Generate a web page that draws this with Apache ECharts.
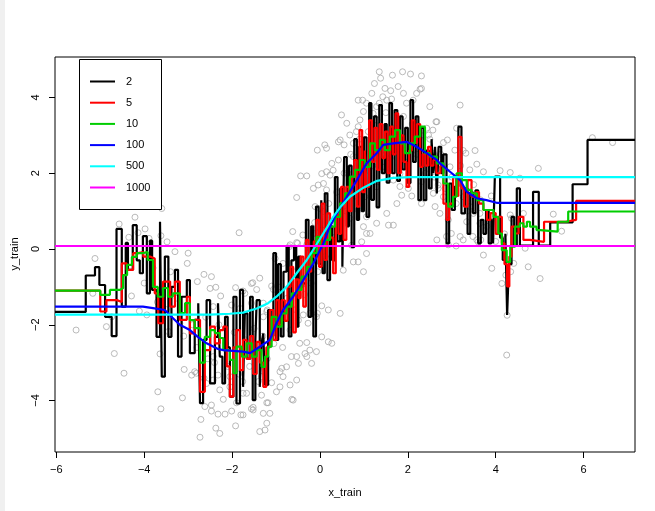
<!DOCTYPE html>
<html>
<head>
<meta charset="utf-8">
<script src="https://cdn.jsdelivr.net/npm/echarts@6/dist/echarts.min.js"></script>
<style>
html,body{margin:0;padding:0;background:#fff;}
#chart{width:655px;height:511px;}
</style>
</head>
<body>
<div id="chart"></div>
<script>
// ---- tick labels ----
const xTicks = [-6, -4, -2, 0, 2, 4, 6];
const yTicks = [-4, -2, 0, 2, 4];

// ---- legend / series names and colours ----
const kLabels = ['2', '5', '10', '100', '500', '1000'];
const kColors = ['#000000', '#ff0000', '#00cd00', '#0000ff', '#00ffff', '#ff00ff'];

// ---- training points (x_train, y_train) ----
const trainPoints = [
[-5.55,-2.14],[-5.17,-1.17],[-5.12,-0.25],[-4.86,-2.05],[-4.74,-1.79],[-4.68,-2.76],[-4.46,-3.28],[-4.57,0.66],[-4.35,0.31],
[-4.21,0.84],[-4.14,0.43],[-3.98,0.53],[-3.89,0.28],[-3.62,0.35],[-3.60,1.07],[-3.48,0.19],[-3.30,-0.07],[-3.00,-0.11],
[-3.02,-0.38],[-4.29,-1.24],[-4.11,-1.64],[-3.94,-1.74],[-3.69,-3.77],[-3.62,-4.22],[-3.64,-2.77],[-3.45,-2.18],[-3.19,-1.96],
[-3.13,-3.93],[-3.09,-3.18],[-2.92,-3.33],[-2.85,-3.24],[-2.81,-3.28],[-2.79,-0.86],[-2.64,-0.67],[-2.47,-0.73],[-2.50,-1.04],
[-2.37,-1.01],[-2.26,-1.24],[-2.58,-3.55],[-2.64,-3.41],[-2.43,-3.46],[-2.43,-2.84],[-2.32,-3.33],[-2.71,-4.50],[-2.62,-4.16],
[-2.47,-4.12],[-2.47,-4.28],[-2.32,-4.36],[-2.16,-4.36],[-2.01,-4.28],[-1.80,-4.38],[-1.92,-4.67],[-2.37,-4.73],[-2.28,-4.87],
[-2.73,-4.97],[-2.05,-3.37],[-1.75,-3.81],[-2.28,-3.72],[-1.84,0.43],[-1.92,-1.02],[-1.75,-1.11],
[-1.53,-0.89],[-1.37,-0.77],[-1.44,-1.07],[-1.10,-0.98],[-1.06,-1.07],[-1.02,-0.25],[-0.62,0.46],[-0.39,0.37],[-0.51,0.15],
[-0.30,0.11],[-0.23,0.02],[-0.15,0.41],[0.00,1.07],[0.08,0.99],[-2.43,-1.52],[-1.29,-1.79],[-1.20,-1.61],[-1.10,-1.88],
[-0.99,-2.05],[-0.68,-2.14],[-0.49,-1.88],[-0.38,-1.74],[-0.27,-1.96],[-0.23,-1.70],[-0.08,-1.79],[0.19,-1.61],[0.19,-2.45],
[-0.08,-2.71],[-0.30,-2.47],[-0.46,-2.49],[-0.34,-2.76],[-0.65,-2.84],[-0.49,-3.02],[-0.76,-3.11],[-0.87,-3.15],[-0.84,-3.37],
[-0.68,-3.59],[-0.91,-3.64],[-0.99,-3.77],[-0.64,-3.97],[-1.21,-4.06],[-1.33,-3.86],[-1.52,-4.18],[-1.90,-4.06],[-2.20,-3.97],
[-1.75,-4.38],[-1.52,-4.25],[-1.37,-4.82],[-1.25,-4.78],[-1.14,-4.34],[-1.67,-3.81],[-2.05,-3.64],[-1.76,-3.50],[-0.91,-3.24],
[-1.10,-3.53],[-1.33,-3.37],[0.04,-2.32],[-0.19,-3.02],[-0.23,-2.67],[-0.53,-3.46],
[-0.61,-3.99],[-1.21,-4.60],[-1.29,-4.34],[-1.56,-4.22],[-1.18,-4.06],[0.04,-1.50],[0.46,-1.70],[0.27,-2.49],[-0.06,-1.70],
[-0.30,-2.84],[-0.53,-2.84],[-0.95,-1.57],[-1.21,-1.65],[-1.82,-1.57],[-2.01,-1.48],[-1.56,-1.43],[-1.29,-1.43],[-1.71,-1.17],
[-1.56,-0.91],[-0.84,-0.38],[-0.68,0.11],[1.06,0.41],
[1.35,4.68],[1.65,4.59],[1.88,4.68],[2.06,4.62],[2.31,4.57],[1.24,4.37],[1.38,4.51],[1.48,4.24],[1.78,4.29],[1.61,4.18],
[1.18,4.11],[1.43,4.02],[1.63,3.96],[1.90,4.11],[2.20,4.11],[2.28,4.22],[0.87,3.93],[0.97,3.93],[1.06,3.85],[1.35,3.85],
[1.52,3.93],[0.99,3.63],[1.21,3.58],[1.29,3.76],[1.97,3.85],[2.12,3.93],[2.50,3.76],[2.66,3.36],[2.43,3.19],[2.47,3.01],
[0.49,3.54],[0.91,3.41],[0.87,3.23],[0.61,3.32],[0.83,3.10],[0.68,3.01],[0.46,2.88],[0.11,2.75],[0.15,2.66],[0.42,2.83],
[0.76,2.79],[0.55,2.75],[0.27,2.26],[0.42,2.35],[0.30,2.08],[0.15,2.04],[0.04,1.99],[0.23,1.95],[0.08,1.73],[0.15,1.56],
[0.64,1.99],[0.72,1.73],[0.76,2.44],[0.68,0.81],[0.87,1.03],[1.06,0.85],[1.29,0.68],[1.56,0.63],[1.67,0.63],[1.52,0.94],
[0.99,0.59],[1.14,0.41],[0.95,0.19],[0.76,-0.34],[0.87,-0.34],[0.99,-0.60],[1.06,-0.12],[0.72,0.10],[0.53,-0.56],[1.82,1.99],
[2.01,1.60],[1.82,1.65],[1.75,1.20],[2.09,1.40],[2.31,1.20],[2.62,1.12],[2.69,1.60],[2.31,1.78],[1.86,1.42],[1.48,2.17],
[1.67,1.82],[1.02,1.38],[1.29,1.64],[2.58,2.52],[2.66,2.13],
[-0.06,2.61],[-0.44,1.93],[-0.30,1.93],[-0.53,1.36],[-0.04,1.69],[-0.15,1.60],[-0.11,1.12],[-0.04,0.43],[-0.15,0.15],
[-0.53,0.17],[-0.70,0.06],
[3.19,3.80],[2.64,3.36],[2.57,3.14],[2.81,2.81],[2.90,2.88],[3.11,3.19],[3.07,2.61],[3.26,2.60],[3.53,2.60],[3.32,2.53],
[2.69,2.22],[2.96,2.17],[3.41,2.09],[3.57,2.24],[3.72,2.04],[4.10,2.07],[4.33,2.02],[4.55,1.87],[4.97,2.13],[2.69,1.69],
[2.58,1.47],[2.81,1.38],[2.73,0.94],[3.26,1.38],[3.41,1.12],[3.49,0.94],[3.64,0.94],[3.64,0.68],[3.34,0.72],[2.92,0.77],
[3.19,0.33],[3.26,0.24],[3.48,0.33],[3.57,0.24],[3.72,-0.16],[3.91,-0.51],[4.14,-0.91],[4.74,-0.47],[5.01,-0.78],[4.67,0.02],
[4.33,0.90],[4.36,0.81],[4.63,0.94],[2.99,0.41],[2.66,0.24],[2.88,0.33],[2.31,4.24],[5.31,0.92],[5.50,0.47],[6.20,2.94],
[6.66,2.81],[3.60,0.19],[3.66,0.24],[2.92,0.11],[3.10,0.08],[4.41,-0.38],[4.34,-0.60],[4.23,-0.69],[4.26,-1.75],[4.25,-2.80],
[-4.00,-0.90],[-3.80,-0.50],[-3.70,-1.40],[-3.50,-1.60],[-3.40,-0.60],[-3.25,-1.30],[-3.10,-2.30],[-2.90,-2.00],[-2.80,-2.60],
[-2.60,-1.80],[-2.55,-2.90],[-2.40,-3.00],[-2.30,-2.00],[-2.15,-2.50],[-2.10,-3.10],[-1.95,-2.20],[-1.85,-3.30],[-1.70,-2.40],
[-1.60,-3.10],[-1.50,-2.10],[-1.40,-3.50],[-1.30,-2.30],[-1.20,-2.90],[-1.05,-2.50],[-0.95,-1.00],[-0.85,-2.60],[-0.75,-1.30],
[-0.60,-0.60],[-0.55,-1.60],[-0.40,-0.30],[-0.35,-1.20],[-0.20,-0.90],[-0.12,0.70],[-0.05,-0.60],[0.05,0.50],[0.12,-0.20],
[0.20,1.20],[0.30,0.30],[0.38,1.50],[0.45,0.60],[0.55,2.00],[0.60,1.00],[0.70,2.50],[0.80,1.40],[0.90,2.90],[1.00,2.00],
[1.10,3.10],[1.20,2.20],[1.30,3.40],[1.40,2.50],[1.50,3.60],[1.60,2.40],[1.70,3.20],[1.80,2.60],[1.90,3.50],[2.00,2.30],
[2.10,3.30],[2.20,2.50],[2.30,3.00],[2.40,2.00],[2.50,2.90],[2.60,1.90],[2.75,2.50],[2.85,1.60],[3.00,1.90],[3.10,1.20],
[3.20,2.20],[3.35,1.00],[3.50,1.70],[3.65,1.30],[3.80,0.60],[3.90,1.40],[4.00,0.20],[4.20,0.40]
];

// ---- kNN fits (x, prediction) ----
const fitK2 = [
[-6.03,-1.66],[-5.33,-0.70],[-5.12,-0.48],[-5.02,-0.95],[-4.89,-1.79],[-4.74,-2.30],[-4.63,0.53],[-4.51,-1.52],[-4.42,0.16],
[-4.37,-0.55],[-4.26,0.63],[-4.17,-0.30],[-4.10,-0.64],[-4.03,0.34],[-3.94,-1.17],[-3.87,0.22],[-3.82,-1.08],[-3.72,-2.32],
[-3.64,0.72],[-3.60,-3.37],[-3.53,-0.20],[-3.45,-2.32],[-3.38,-1.00],[-3.30,-0.55],[-3.23,-2.84],[-3.15,-1.26],[-3.03,-0.82],
[-2.96,-2.75],[-2.85,-1.87],[-2.77,-1.43],[-2.73,-4.07],[-2.66,-2.40],[-2.58,-1.35],[-2.50,-3.55],[-2.39,-2.32],[-2.32,-1.43],
[-2.28,-2.84],[-2.22,-3.55],[-2.16,-1.79],[-2.10,-2.60],[-2.05,-3.90],[-1.97,-1.26],[-1.90,-4.08],[-1.82,-1.08],[-1.75,-3.64],
[-1.71,-1.70],[-1.65,-2.90],[-1.59,-1.26],[-1.53,-3.99],[-1.47,-2.40],[-1.44,-1.35],[-1.37,-3.64],[-1.33,-2.50],[-1.29,-2.23],
[-1.25,-3.59],[-1.18,-1.61],[-1.12,-2.30],[-1.06,-0.11],[-1.00,-2.40],[-0.95,-0.40],[-0.89,-2.31],[-0.83,-0.60],[-0.76,0.06],
[-0.71,-2.31],[-0.65,-0.30],[-0.59,0.06],[-0.54,-2.05],[-0.49,-0.20],[-0.44,-1.00],[-0.38,-0.91],[-0.32,0.77],[-0.26,-1.79],
[-0.20,0.60],[-0.15,-2.31],[-0.09,1.12],[-0.03,-0.40],[0.03,1.29],[0.06,-0.64],[0.11,1.47],[0.17,-0.82],[0.23,0.60],
[0.28,-0.30],[0.34,1.90],[0.40,0.20],[0.46,1.60],[0.51,-0.47],[0.55,2.43],[0.61,0.60],[0.66,2.20],[0.72,0.05],[0.78,2.90],
[0.84,0.77],[0.89,2.70],[0.95,1.00],[1.00,2.95],[1.06,0.85],[1.12,3.85],[1.17,1.30],[1.23,3.50],[1.29,1.10],[1.35,3.80],
[1.41,2.00],[1.47,3.30],[1.52,1.75],[1.58,3.85],[1.64,2.00],[1.70,3.67],[1.76,1.80],[1.82,3.50],[1.88,2.10],[1.94,3.20],
[2.00,1.74],[2.06,3.93],[2.12,2.30],[2.18,3.50],[2.24,1.29],[2.30,3.20],[2.36,1.29],[2.42,2.60],[2.48,1.60],[2.54,2.90],
[2.58,2.00],[2.62,2.70],[2.66,1.47],[2.70,2.70],[2.76,2.00],[2.81,2.50],[2.88,0.15],[2.94,1.73],[3.00,1.03],[3.07,1.65],
[3.15,3.23],[3.22,0.94],[3.30,1.60],[3.36,0.40],[3.42,1.50],[3.48,0.95],[3.54,1.55],[3.60,0.15],[3.66,0.77],[3.72,0.40],
[3.78,1.00],[3.84,0.15],[3.90,0.80],[3.94,0.15],[3.98,1.91],[4.10,0.30],[4.16,-0.29],[4.22,0.40],[4.26,-1.74],[4.30,-0.40],
[4.36,0.85],[4.42,0.09],[4.48,1.60],[4.55,0.09],[4.85,1.51],[4.98,0.09],[5.24,0.70],[5.75,1.71],[6.09,2.88],[7.17,2.88]
];
const fitK5 = [
[-6.03,-1.10],[-5.00,-1.65],[-4.86,-1.35],[-4.62,-1.40],[-4.51,-0.38],[-4.40,-0.55],[-4.25,-0.11],[-4.14,-0.08],[-4.02,-0.20],
[-3.87,-0.25],[-3.76,-1.17],[-3.68,-1.96],[-3.57,-0.86],[-3.41,-1.52],[-3.30,-0.86],[-3.19,-1.87],[-3.03,-1.26],[-2.96,-2.23],
[-2.85,-1.87],[-2.73,-3.77],[-2.62,-2.67],[-2.50,-2.05],[-2.39,-2.49],[-2.28,-2.14],[-2.20,-2.05],[-2.12,-3.10],[-2.05,-3.90],
[-1.97,-2.60],[-1.90,-2.14],[-1.82,-3.20],[-1.75,-2.40],[-1.67,-2.90],[-1.59,-2.30],[-1.52,-3.30],[-1.44,-2.45],[-1.37,-3.00],
[-1.29,-3.64],[-1.22,-2.60],[-1.14,-1.61],[-1.06,-2.40],[-0.99,-1.35],[-0.93,-2.00],[-0.87,-1.35],[-0.80,-1.90],[-0.74,-1.00],
[-0.67,-0.47],[-0.61,-2.20],[-0.55,-0.80],[-0.49,-1.30],[-0.44,-0.20],[-0.38,-1.52],[-0.32,0.24],[-0.26,-0.60],[-0.20,-0.20],
[-0.14,0.20],[-0.08,0.77],[-0.02,-0.47],[0.04,1.20],[0.10,-0.29],[0.16,0.94],[0.23,0.30],[0.30,-0.64],[0.36,0.90],[0.42,0.40],
[0.48,1.64],[0.54,0.24],[0.60,1.64],[0.66,1.00],[0.72,1.90],[0.78,2.35],[0.84,1.12],[0.90,3.14],[0.96,1.50],[1.02,2.60],
[1.06,1.64],[1.12,3.40],[1.18,2.30],[1.24,3.20],[1.30,2.09],[1.36,3.30],[1.42,2.40],[1.48,3.10],[1.54,2.00],[1.60,3.23],
[1.66,2.50],[1.72,3.58],[1.78,2.00],[1.84,3.00],[1.90,2.30],[1.97,1.64],[2.03,2.60],[2.09,3.40],[2.15,2.80],[2.21,3.30],
[2.28,2.17],[2.34,2.50],[2.40,2.20],[2.46,2.70],[2.52,2.20],[2.58,2.35],[2.65,2.00],[2.74,2.20],[2.81,1.20],[2.88,0.77],
[2.94,1.20],[3.03,1.91],[3.10,1.40],[3.15,2.96],[3.22,1.60],[3.28,1.12],[3.36,1.82],[3.45,1.38],[3.55,1.50],[3.62,1.20],
[3.72,1.03],[3.80,0.77],[3.88,0.95],[4.00,0.40],[4.06,0.85],[4.14,0.15],[4.20,-0.40],[4.26,-0.99],[4.31,-0.20],[4.36,0.59],
[4.44,0.41],[4.52,0.85],[4.63,0.24],[4.78,0.19],[5.10,0.72],[5.59,0.77],[5.83,1.27],[7.17,1.27]
];
const fitK10 = [
[-6.03,-1.10],[-5.00,-1.21],[-4.78,-1.08],[-4.55,-1.03],[-4.48,-0.69],[-4.39,-0.42],[-4.28,-0.21],[-4.17,-0.11],[-4.03,-0.08],
[-3.92,-0.29],[-3.80,-1.00],[-3.69,-1.26],[-3.57,-1.03],[-3.46,-1.26],[-3.35,-1.17],[-3.19,-1.69],[-3.07,-1.43],[-2.96,-1.88],
[-2.85,-2.09],[-2.73,-3.00],[-2.62,-2.32],[-2.50,-2.14],[-2.39,-2.22],[-2.28,-2.35],[-2.20,-2.67],[-2.05,-2.93],[-1.97,-3.28],
[-1.90,-2.58],[-1.78,-2.84],[-1.67,-2.49],[-1.55,-2.84],[-1.44,-2.67],[-1.33,-3.11],[-1.25,-2.84],[-1.18,-2.58],[-1.10,-1.79],
[-0.99,-2.05],[-0.87,-1.70],[-0.76,-1.52],[-0.64,-1.17],[-0.53,-1.08],[-0.42,-0.73],[-0.30,-0.47],[-0.19,-0.11],[-0.08,0.32],
[0.00,0.06],[0.11,0.24],[0.23,0.59],[0.34,0.85],[0.46,1.21],[0.57,1.47],[0.68,1.91],[0.80,2.09],[0.91,2.35],[1.02,2.17],
[1.14,2.79],[1.25,2.61],[1.37,2.88],[1.48,2.61],[1.59,2.97],[1.71,3.14],[1.82,2.79],[1.93,2.53],[2.05,2.79],[2.16,2.97],
[2.28,3.23],[2.39,2.53],[2.50,2.44],[2.66,2.26],[2.81,1.73],[2.92,1.12],[3.03,1.38],[3.11,2.00],[3.23,1.82],[3.34,1.56],
[3.45,1.47],[3.57,1.29],[3.72,1.03],[3.83,1.03],[3.95,0.85],[4.06,0.41],[4.14,-0.03],[4.25,-0.34],[4.33,0.06],[4.44,0.59],
[4.55,0.68],[4.63,0.59],[4.71,0.72],[4.78,0.59],[4.93,0.50],[5.02,0.46],[5.41,0.72],[5.65,0.99],[7.17,0.99]
];
const fitK100 = [
[-6.03,-1.52],[-4.03,-1.52],[-3.80,-1.56],[-3.53,-1.61],[-3.38,-1.79],[-3.19,-2.00],[-2.96,-2.14],[-2.78,-2.32],[-2.58,-2.49],
[-2.32,-2.64],[-2.20,-2.67],[-1.75,-2.71],[-1.59,-2.75],[-1.37,-2.58],[-1.14,-2.40],[-0.99,-1.96],[-0.84,-1.61],[-0.61,-1.26],
[-0.38,-0.82],[-0.15,-0.38],[0.08,0.15],[0.19,0.50],[0.38,0.94],[0.61,1.38],[0.84,1.82],[1.06,2.26],[1.29,2.53],[1.44,2.75],
[1.67,2.79],[1.97,2.83],[2.20,2.70],[2.43,2.53],[2.66,2.35],[2.73,2.26],[2.96,2.04],[3.19,1.82],[3.34,1.51],[3.57,1.34],
[3.79,1.29],[4.02,1.22],[7.17,1.22]
];
const fitK500 = [
[-6.03,-1.73],[-2.50,-1.73],[-2.05,-1.71],[-1.75,-1.68],[-1.44,-1.57],[-1.18,-1.43],[-0.99,-1.26],[-0.76,-1.00],[-0.53,-0.64],
[-0.30,-0.29],[-0.08,0.12],[0.15,0.55],[0.30,0.85],[0.46,1.10],[0.68,1.38],[0.99,1.62],[1.30,1.80],[1.67,1.88],[2.05,1.90],
[7.17,1.90]
];
const fitK1000 = [[-6.03,0.08],[7.17,0.08]];

const fits = [fitK2, fitK5, fitK10, fitK100, fitK500, fitK1000];
const stepped = [true, true, true, false, false, false];

const FONT = '"Liberation Sans", Arial, Helvetica, sans-serif';
const minusFmt = v => String(v).replace('-', '\u2212');

const chart = echarts.init(document.getElementById('chart'), null, {renderer: 'canvas'});

const series = [{
  type: 'scatter',
  data: trainPoints,
  symbol: 'circle',
  symbolSize: 6,
  itemStyle: {color: 'rgba(0,0,0,0)', borderColor: '#a9a9a9', borderWidth: 1},
  silent: true,
  z: 1
}];
fits.forEach((d, i) => {
  series.push({
    type: 'line',
    name: kLabels[i],
    data: d,
    step: stepped[i] ? 'end' : false,
    showSymbol: false,
    symbol: 'none',
    lineStyle: {color: kColors[i], width: 2.2},
    silent: true,
    z: 2 + i
  });
});

// legend drawn as graphics (box, sample lines, labels)
const lg = [];
lg.push({type: 'rect', shape: {x: 79.5, y: 59.5, width: 82, height: 150},
  style: {fill: '#fff', stroke: '#000', lineWidth: 1}, z: 100});
kLabels.forEach((lab, i) => {
  const yy = 81.5 + i * 21.2;
  lg.push({type: 'line', shape: {x1: 90, y1: yy, x2: 115, y2: yy},
    style: {stroke: kColors[i], lineWidth: 2}, z: 101});
  lg.push({type: 'text', x: 126, y: yy,
    style: {text: lab, fill: '#000', font: '11px ' + FONT, textVerticalAlign: 'middle', textAlign: 'left'}, z: 101});
});
lg.push({type: 'text', x: 345, y: 493,
  style: {text: 'x_train', fill: '#000', font: '11px ' + FONT, textAlign: 'center', textVerticalAlign: 'middle'}, z: 101});
lg.push({type: 'text', x: 15, y: 254, rotation: Math.PI / 2,
  style: {text: 'y_train', fill: '#000', font: '11px ' + FONT, textAlign: 'center', textVerticalAlign: 'middle'}, z: 101});
lg.push({type: 'rect', shape: {x: 0, y: 0, width: 5, height: 511}, style: {fill: '#f0f0f0'}, z: 101});

chart.setOption({
  animation: false,
  backgroundColor: '#ffffff',
  grid: {left: 55, right: 20, top: 57, bottom: 59, show: true, borderColor: '#000', borderWidth: 1,
         backgroundColor: 'transparent'},
  xAxis: {
    type: 'value', min: -6.03, max: 7.17, position: 'bottom',
    axisLine: {show: false, onZero: false},
    splitLine: {show: false},
    axisTick: {show: true, inside: false, length: 6, lineStyle: {color: '#000'}, customValues: xTicks},
    axisLabel: {customValues: xTicks, margin: 12, color: '#000', fontSize: 11, fontFamily: FONT, formatter: minusFmt}
  },
  yAxis: {
    type: 'value', min: -5.36, max: 5.07, position: 'left',
    axisLine: {show: false, onZero: false},
    splitLine: {show: false},
    axisTick: {show: true, inside: false, length: 6, lineStyle: {color: '#000'}, customValues: yTicks},
    axisLabel: {customValues: yTicks, margin: 14, rotate: 90, color: '#000', fontSize: 11, fontFamily: FONT, formatter: minusFmt}
  },
  series: series,
  graphic: {elements: lg}
});
</script>
</body>
</html>
